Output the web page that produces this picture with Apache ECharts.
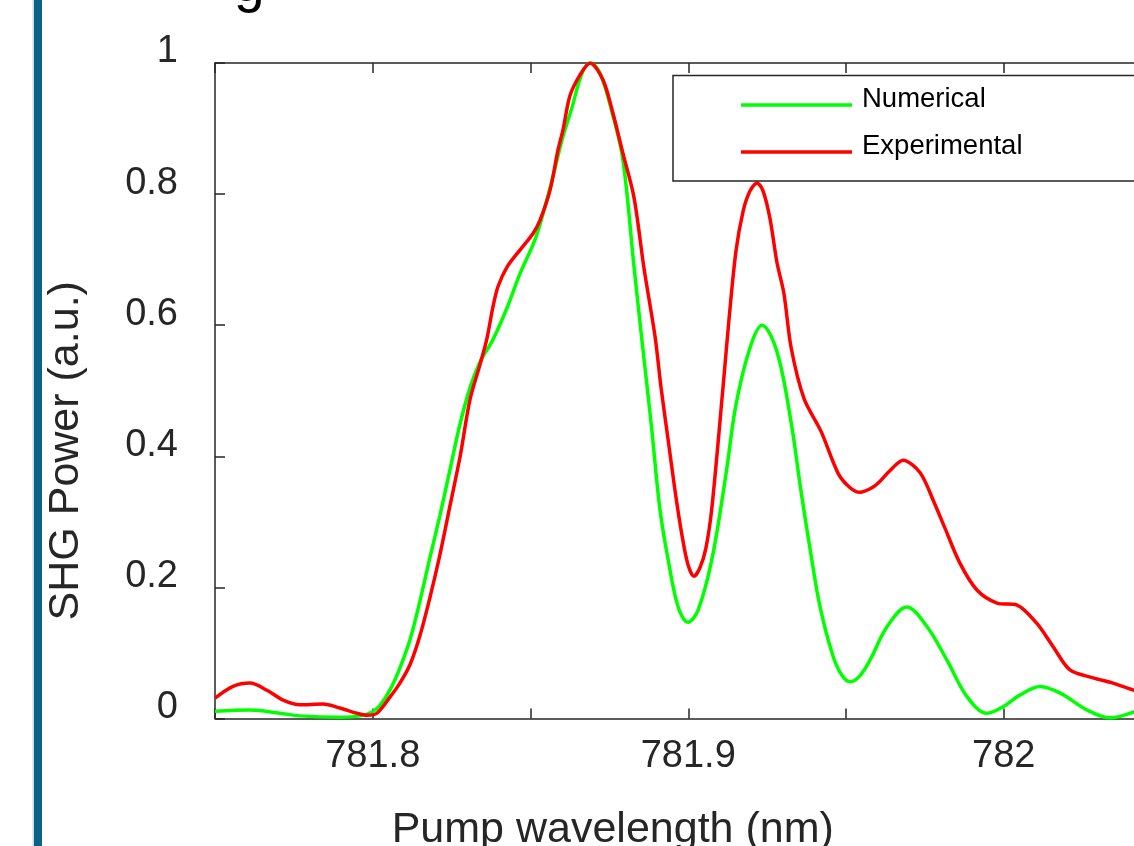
<!DOCTYPE html>
<html>
<head>
<meta charset="utf-8">
<script src="https://cdn.jsdelivr.net/npm/echarts@6/dist/echarts.min.js"></script>
<style>
html,body{margin:0;padding:0;background:#fff;}
#chart{width:1134px;height:846px;}
</style>
</head>
<body>
<div id="chart"></div>
<script>
// ---- data ----
const xLabelTicks = [781.8, 781.9, 782.0];
const seriesNames = ['Numerical', 'Experimental'];

const wlNum = [781.7500, 781.7611, 781.7706, 781.7769, 781.7896, 781.7960, 781.7998, 781.8023, 781.8055, 781.8086,
  781.8118, 781.8150, 781.8181, 781.8213, 781.8245, 781.8277, 781.8308, 781.8340, 781.8381, 781.8426,
  781.8467, 781.8514, 781.8546, 781.8574, 781.8600, 781.8632, 781.8663, 781.8689, 781.8720, 781.8761,
  781.8793, 781.8828, 781.8853, 781.8882, 781.8910, 781.8936, 781.8968, 781.8999, 781.9031, 781.9075,
  781.9120, 781.9151, 781.9196, 781.9234, 781.9281, 781.9326, 781.9357, 781.9389, 781.9418, 781.9459,
  781.9487, 781.9513, 781.9544, 781.9576, 781.9630, 781.9693, 781.9757, 781.9820, 781.9884, 781.9947,
  781.9998, 782.0052, 782.0115, 782.0178, 782.0264, 782.0337, 782.0413, 782.0500];
const powNum = [0.011, 0.013, 0.008, 0.004, 0.002, 0.004, 0.010, 0.020, 0.044, 0.077,
  0.120, 0.180, 0.245, 0.310, 0.380, 0.450, 0.504, 0.544, 0.578, 0.627,
  0.679, 0.730, 0.781, 0.832, 0.883, 0.933, 0.984, 1.000, 0.985, 0.920,
  0.852, 0.690, 0.578, 0.452, 0.320, 0.243, 0.170, 0.147, 0.165, 0.243,
  0.374, 0.478, 0.566, 0.600, 0.560, 0.452, 0.348, 0.250, 0.170, 0.095,
  0.066, 0.056, 0.065, 0.089, 0.140, 0.170, 0.140, 0.089, 0.033, 0.008,
  0.018, 0.036, 0.049, 0.039, 0.013, 0.001, 0.010, 0.030];

const wlExp = [781.7500, 781.7557, 781.7611, 781.7665, 781.7716, 781.7769, 781.7842, 781.7896, 781.7950, 781.7982,
  781.8013, 781.8055, 781.8086, 781.8118, 781.8150, 781.8181, 781.8213, 781.8245, 781.8277, 781.8308,
  781.8340, 781.8362, 781.8381, 781.8397, 781.8426, 781.8467, 781.8508, 781.8530, 781.8562, 781.8587,
  781.8603, 781.8625, 781.8657, 781.8689, 781.8730, 781.8761, 781.8793, 781.8828, 781.8860, 781.8895,
  781.8914, 781.8936, 781.8958, 781.8980, 781.8999, 781.9018, 781.9037, 781.9056, 781.9075, 781.9110,
  781.9129, 781.9151, 781.9174, 781.9196, 781.9218, 781.9237, 781.9259, 781.9281, 781.9303, 781.9326,
  781.9367, 781.9421, 781.9475, 781.9513, 781.9544, 781.9582, 781.9608, 781.9639, 781.9681, 781.9735,
  781.9779, 781.9814, 781.9861, 781.9915, 781.9979, 782.0042, 782.0105, 782.0156, 782.0210, 782.0283,
  782.0346, 782.0413, 782.0500];
const powExp = [0.031, 0.049, 0.054, 0.043, 0.028, 0.021, 0.022, 0.016, 0.008, 0.005,
  0.008, 0.033, 0.054, 0.082, 0.127, 0.184, 0.250, 0.325, 0.400, 0.486,
  0.540, 0.580, 0.628, 0.659, 0.689, 0.715, 0.740, 0.760, 0.806, 0.867,
  0.898, 0.950, 0.982, 1.000, 0.974, 0.924, 0.862, 0.795, 0.686, 0.582,
  0.504, 0.426, 0.348, 0.280, 0.235, 0.217, 0.230, 0.260, 0.322, 0.504,
  0.608, 0.712, 0.774, 0.805, 0.817, 0.805, 0.763, 0.696, 0.649, 0.566,
  0.488, 0.438, 0.374, 0.352, 0.345, 0.352, 0.362, 0.378, 0.394, 0.375,
  0.330, 0.290, 0.237, 0.196, 0.176, 0.173, 0.145, 0.110, 0.074, 0.062,
  0.054, 0.043, 0.033];

// ---- chart ----
const FONT = "'Liberation Sans', Arial, Helvetica, sans-serif";
const AX = '#262626';
const zip = (a, b) => a.map((v, i) => [v, b[i]]);

const chart = echarts.init(document.getElementById('chart'), null, {renderer: 'canvas'});

const axisLineStyle = {color: AX, width: 1.5};
const xLabelFmt = function (v) {
  for (const t of xLabelTicks) {
    if (Math.abs(t - v) < 1e-6) return String(+t.toFixed(1));
  }
  return '';
};

const option = {
  backgroundColor: '#ffffff',
  animation: false,
  textStyle: {fontFamily: FONT},
  grid: {left: 215, top: 63, right: -27.5, bottom: 127.5, outerBoundsMode: 'none', containLabel: false},
  xAxis: [{
    type: 'value', min: 781.75, max: 782.05, interval: 0.05, position: 'bottom',
    axisLine: {show: true, onZero: false, lineStyle: axisLineStyle},
    axisTick: {show: true, inside: true, length: 10, lineStyle: axisLineStyle},
    splitLine: {show: false},
    axisLabel: {show: true, formatter: xLabelFmt, fontSize: 38, color: AX, fontFamily: FONT, margin: 19,
      showMinLabel: true, showMaxLabel: true, hideOverlap: false},
    name: 'Pump wavelength (nm)', nameLocation: 'middle', nameGap: 90,
    nameTextStyle: {fontSize: 43, color: AX, fontFamily: FONT, padding: [0, 151, 0, 0]}
  }, {
    type: 'value', min: 781.75, max: 782.05, interval: 0.05, position: 'top',
    axisLine: {show: true, onZero: false, lineStyle: axisLineStyle},
    axisTick: {show: true, inside: true, length: 10, lineStyle: axisLineStyle},
    splitLine: {show: false},
    axisLabel: {show: false}
  }],
  yAxis: [{
    type: 'value', min: 0, max: 1, interval: 0.2, position: 'left',
    axisLine: {show: true, onZero: false, lineStyle: axisLineStyle},
    axisTick: {show: true, inside: true, length: 10, lineStyle: axisLineStyle},
    splitLine: {show: false},
    axisLabel: {show: true, fontSize: 38, color: AX, fontFamily: FONT, margin: 37,
      verticalAlign: 'bottom', lineHeight: 22,
      showMinLabel: true, showMaxLabel: true},
    name: 'SHG Power (a.u.)', nameLocation: 'middle', nameGap: 127, nameRotate: 90,
    nameTextStyle: {fontSize: 43, color: AX, fontFamily: FONT, padding: [0, 120, 0, 0]}
  }],
  legend: {
    show: true, orient: 'vertical', left: 741, top: 85, padding: 0,
    icon: 'rect', itemWidth: 111, itemHeight: 3.5, itemGap: 7, selectedMode: false,
    data: seriesNames,
    formatter: '{n|{name}}',
    textStyle: {fontSize: 27.5, color: '#000000', fontFamily: FONT,
      rich: {n: {fontSize: 27.5, color: '#000000', fontFamily: FONT, lineHeight: 30, padding: [0, 0, 12, 5]}}}
  },
  graphic: [
    {type: 'rect', z: 3, shape: {x: 673, y: 75.5, width: 600, height: 105.5},
      style: {fill: '#ffffff', stroke: AX, lineWidth: 1.5}},
    {type: 'rect', z: 3, shape: {x: 32.5, y: 0, width: 1.6, height: 846}, style: {fill: '#c9dbe6'}},
    {type: 'rect', z: 3, shape: {x: 34, y: 0, width: 8, height: 846}, style: {fill: '#0b6287'}},
    {type: 'text', z: 3, style: {text: 'g', x: 234, y: -14, font: "55px 'Liberation Sans', Arial, sans-serif",
      fill: '#000000', align: 'left', verticalAlign: 'middle'}}
  ],
  series: [{
    name: seriesNames[0], type: 'line', data: zip(wlNum, powNum),
    xAxisIndex: 0, yAxisIndex: 0,
    symbol: 'none', showSymbol: false, smooth: 0.35, clip: true,
    lineStyle: {color: '#00ff00', width: 3.5}, itemStyle: {color: '#00ff00'}, z: 2
  }, {
    name: seriesNames[1], type: 'line', data: zip(wlExp, powExp),
    xAxisIndex: 0, yAxisIndex: 0,
    symbol: 'none', showSymbol: false, smooth: 0.3, clip: true,
    lineStyle: {color: '#ff0000', width: 3.5}, itemStyle: {color: '#ff0000'}, z: 2
  }]
};
chart.setOption(option);
</script>
</body>
</html>
